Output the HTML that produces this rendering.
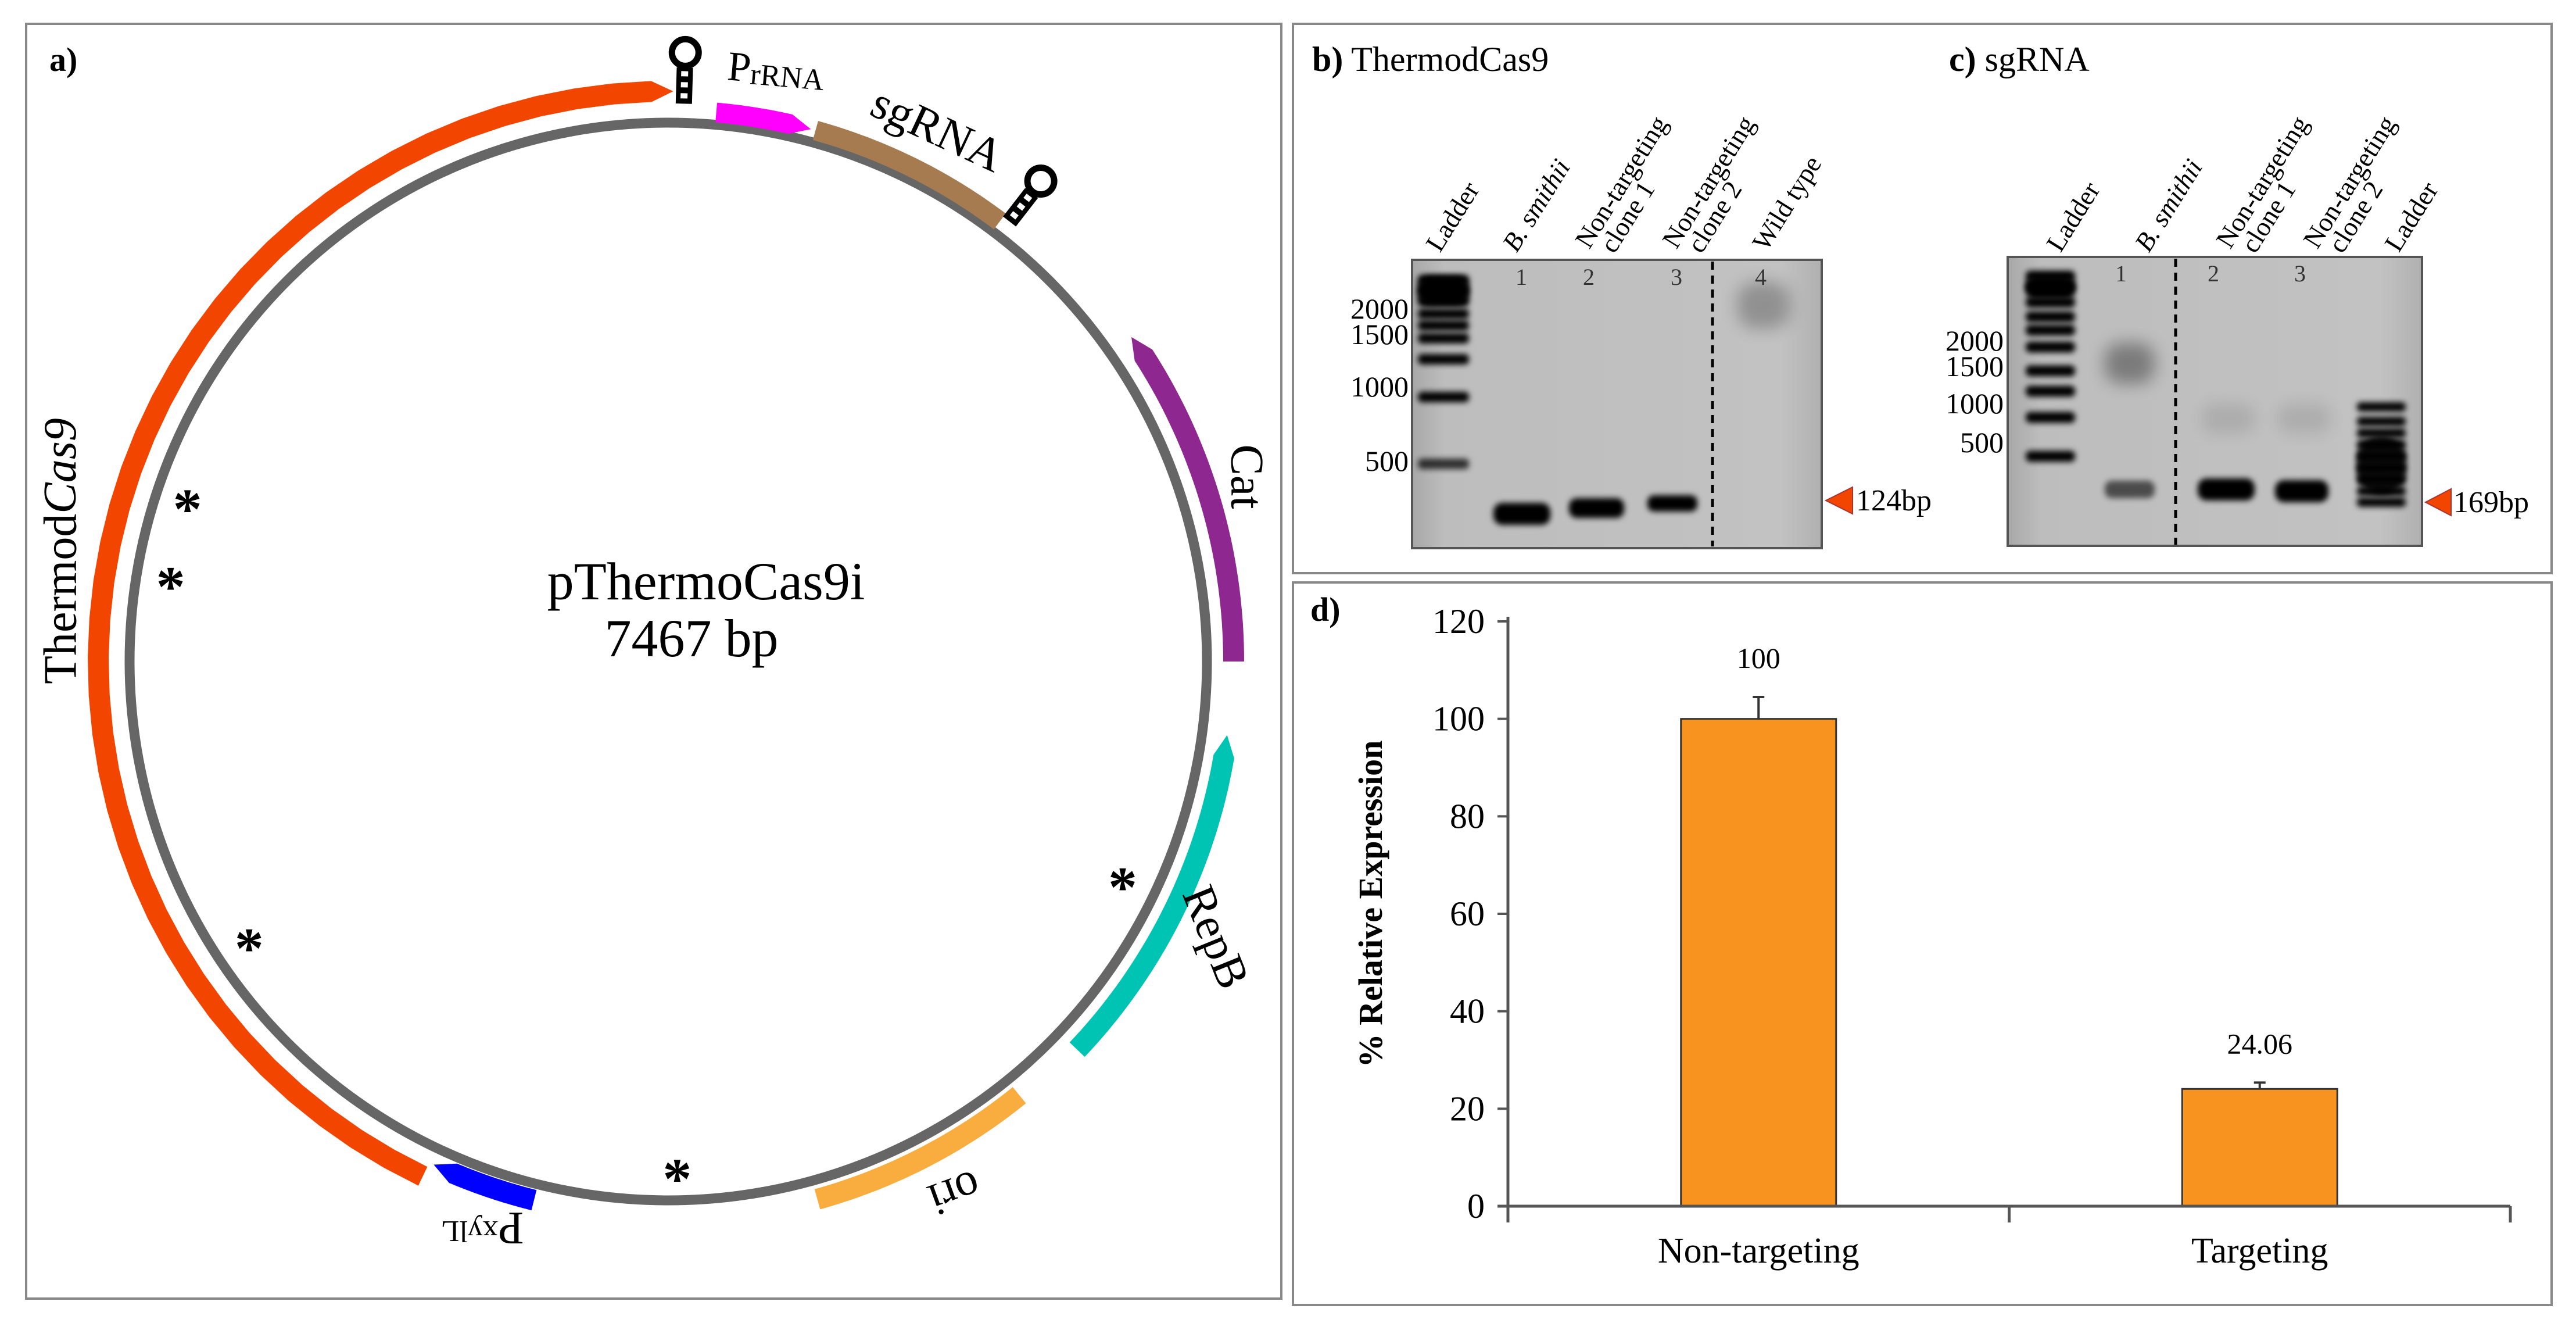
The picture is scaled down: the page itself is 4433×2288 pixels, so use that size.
<!DOCTYPE html>
<html><head><meta charset="utf-8"><style>
html,body{margin:0;padding:0;background:#fff}
svg{display:block}
text{font-family:"Liberation Serif",serif}
</style></head><body>
<svg id="fig" width="4433" height="2288" viewBox="0 0 4433 2288" xmlns="http://www.w3.org/2000/svg">
<defs>
<filter id="blur" x="-30%" y="-60%" width="160%" height="220%"><feGaussianBlur stdDeviation="5"/></filter>
<filter id="blur2" x="-30%" y="-60%" width="160%" height="220%"><feGaussianBlur stdDeviation="14"/></filter>
<linearGradient id="gelg" x1="0" y1="0" x2="1" y2="0"><stop offset="0" stop-color="#a8a8a8"/><stop offset="0.08" stop-color="#bdbdbd"/><stop offset="0.9" stop-color="#c2c2c2"/><stop offset="1" stop-color="#b0b0b0"/></linearGradient>
</defs>
<rect x="45" y="41" width="2160" height="2193" fill="none" stroke="#888" stroke-width="4"/>
<rect x="2225" y="41" width="2166" height="945" fill="none" stroke="#888" stroke-width="4"/>
<rect x="2225" y="1002" width="2166" height="1243" fill="none" stroke="#888" stroke-width="4"/>

<g id="plasmid"></g>
<g id="gels"></g>
<g id="chart"></g>
</svg>
<script>
const NS="http://www.w3.org/2000/svg";
function mk(parent,tag,attrs,txt){const e=document.createElementNS(NS,tag);for(const k in attrs)e.setAttribute(k,attrs[k]);if(txt!==undefined)e.textContent=txt;parent.appendChild(e);return e;}

/* ---------- Panel a: plasmid map ---------- */
const featureNames=["ThermodCas9","PrRNA","sgRNA","Cat","RepB","ori","Pxyl"];
const featureStart=[205.5,5,15.5,55,97.5,141,194];
const featureEnd=[0.5,15,37,90,133.5,164.5,205];
const featureColors=["#f24600","#ff00ff","#a67b4f","#8e278f","#00c4b3","#f9ad3e","#0000ff"];
const asteriskAngles=[-72,-81,-124,179,116];
const asteriskR=[870,867,870,883,870];

const P=document.getElementById('plasmid');
const cx=1150,cy=1138,R=927;
function pol(r,a){const t=a*Math.PI/180;return [cx+r*Math.sin(t),cy-r*Math.cos(t)];}
let c=mk(P,'circle',{cx:cx,cy:cy,r:R,fill:'none',stroke:'#666','stroke-width':17});



function band(a1,a2,rm,w,arrow){
  const r1=rm-w/2,r2=rm+w/2,ah=2.2;
  let s=a1,e=a2;
  if(arrow==='end')e=a2-ah; if(arrow==='start')s=a1+ah;
  let d='';
  const N=40;
  for(let i=0;i<=N;i++){const a=s+(e-s)*i/N;const p=pol(r2,a);d+=(i?'L':'M')+p[0].toFixed(1)+' '+p[1].toFixed(1);}
  if(arrow==='end'){const t=pol(rm,a2);d+='L'+t[0]+' '+t[1];}
  for(let i=N;i>=0;i--){const a=s+(e-s)*i/N;const p=pol(r1,a);d+='L'+p[0].toFixed(1)+' '+p[1].toFixed(1);}
  if(arrow==='start'){const t=pol(rm,a1);d+='L'+t[0]+' '+t[1];}
  return d+'Z';
}
const featureR=[981,948,948,973,970,960,955];
const featureW=[36,34,34,36,36,36,36];
const featureArrow=['end','end','','start','start','','end'];
for(let i=0;i<featureNames.length;i++){
  let a1=featureStart[i],a2=featureEnd[i];
  if(a2<a1)a2+=360;
  const p=mk(P,'path',{d:band(a1,a2,featureR[i],featureW[i],featureArrow[i]),fill:featureColors[i]});
  
  
}
[[1.6,960],[37.8,958]].forEach((t,i)=>{
  const g=mk(P,'g',{transform:`rotate(${t[0]} ${cx} ${cy})`});
  
  
  const y0=cy-t[1];
  mk(g,'rect',{x:cx-14,y:y0-62,width:28,height:62,fill:'#000'});
  for(let k=0;k<3;k++)mk(g,'rect',{x:cx-6,y:y0-56+k*19,width:12,height:9,fill:'#fff'});
  mk(g,'circle',{cx:cx,cy:y0-88,r:23,fill:'none',stroke:'#000','stroke-width':11});
});
for(let i=0;i<asteriskAngles.length;i++){
  const p=pol(asteriskR[i],asteriskAngles[i]);
  const t=mk(P,'text',{x:p[0],y:p[1]+40,'font-size':100,'text-anchor':'middle','font-weight':'bold'},'*');
  
  
}
function lbl(x,y,rot,txt,size,name,italic){
  const t=mk(P,'text',{x:0,y:0,transform:`translate(${x} ${y}) rotate(${rot})`,'font-size':size,'text-anchor':'middle','dominant-baseline':'middle'});
  if(italic)t.setAttribute('font-style','italic');
  t.innerHTML=txt;
  
  
  return t;
}
lbl(112,948,-90,'Thermod<tspan font-style="italic">Cas9</tspan>',80,'label-thermodcas9');
lbl(1335,128,5,'P<tspan font-size="52" dy="8">rRNA</tspan>',72,'label-prrna');
lbl(1610,230,25,'sgRNA',80,'label-sgrna');
lbl(2138,820,90,'Cat',80,'label-cat');
lbl(2085,1615,68,'RepB',80,'label-repb');
lbl(1640,2045,160,'ori',80,'label-ori');
lbl(830,2105,180,'P<tspan font-size="52" dy="-8">xylL</tspan>',80,'label-pxyl');
lbl(1215,1010,0,'pThermoCas9i',92,'plasmid-name');
lbl(1190,1108,0,'7467 bp',92,'plasmid-size');
let ta=mk(P,'text',{x:85,y:122,'font-size':58,'font-weight':'bold'},'a)');


/* ---------- Panels b, c: gels ---------- */
const G=document.getElementById('gels');
function gt(x,y,txt,size,attrs,name){const t=mk(G,'text',Object.assign({x:x,y:y,'font-size':size},attrs||{}));t.innerHTML=txt;return t;}
gt(2258,122,'<tspan font-weight="bold">b)</tspan> ThermodCas9',60,{},'panel-b-title');
gt(3354,122,'<tspan font-weight="bold">c)</tspan> sgRNA',60,{},'panel-c-title');

function gel(x,y,w,h,name){const r=mk(G,'rect',{x:x,y:y,width:w,height:h,fill:'url(#gelg)',stroke:'#555','stroke-width':4});}
gel(2430,447,705,496,'gel-b');
gel(3455,442,713,497,'gel-c');
function bandR(x,y,w,h,op,blur,name){const r=mk(G,'rect',{x:x,y:y-h/2,width:w,height:h,rx:h/2.5,fill:'#000',opacity:op,filter:blur?'url(#blur2)':'url(#blur)'});}
[482,500,518,540,560,582,618,683,798].forEach(y=>bandR(2440,y,88,18,y>790?0.75:1,false,'ladder-band'));
bandR(2440,500,88,50,1,false,'ladder-band');
bandR(2570,884,98,38,1,false,'sample-band');
bandR(2700,874,95,34,1,false,'sample-band');
bandR(2835,866,86,28,1,false,'sample-band');
bandR(2990,525,90,80,0.25,true,'wildtype-smear');
let dl=mk(G,'line',{x1:2947,y1:450,x2:2947,y2:940,stroke:'#000','stroke-width':5,'stroke-dasharray':'14 10'});
[['1',2618],['2',2734],['3',2885],['4',3030]].forEach(n=>gt(n[1],490,n[0],40,{'text-anchor':'middle',fill:'#333'},'lane-number'));
[['2000',548],['1500',592],['1000',682],['500',810]].forEach(n=>gt(2424,n[1],n[0],50,{'text-anchor':'end'},'ladder-size-label'));
let tr=mk(G,'polygon',{points:'3142,861 3188,838 3188,884',fill:'#f24600',stroke:'#a33','stroke-width':2});
gt(3194,878,'124bp',52,{},'size-label-124bp');
function rl(x,y,txt,name){const t=mk(G,'text',{x:0,y:0,transform:`translate(${x} ${y}) rotate(-58)`,'font-size':46});t.innerHTML=txt;}
rl(2478,436,'Ladder','lane-label-ladder');
rl(2610,436,'<tspan font-style="italic">B. smithii</tspan>','lane-label-bsmithii');
rl(2735,430,'Non-targeting','lane-label-clone1');rl(2778,438,'clone 1','lane-label-clone1-b');
rl(2885,430,'Non-targeting','lane-label-clone2');rl(2928,438,'clone 2','lane-label-clone2-b');
rl(3040,434,'Wild type','lane-label-wildtype');
[475,494,520,545,568,597,638,673,718,785].forEach(y=>bandR(3486,y,85,19,1,false,'ladder-band'));
bandR(3486,495,85,40,1,false,'ladder-band');
bandR(3622,625,86,70,0.35,true,'sample-smear');
bandR(3622,842,86,30,0.6,false,'sample-band');
bandR(3782,842,98,38,1,false,'sample-band');
bandR(3915,845,92,38,1,false,'sample-band');
bandR(3790,720,90,50,0.1,true,'faint-smear');bandR(3920,720,90,50,0.1,true,'faint-smear');
[700,725,745,765,785,805,825,845,864].forEach(y=>bandR(4056,y,84,16,1,false,'ladder2-band'));
bandR(4056,800,84,100,0.9,false,'ladder2-band');
let dl2=mk(G,'line',{x1:3744,y1:445,x2:3744,y2:937,stroke:'#000','stroke-width':5,'stroke-dasharray':'14 10'});
[['1',3650],['2',3809],['3',3958]].forEach(n=>gt(n[1],484,n[0],40,{'text-anchor':'middle',fill:'#333'},'lane-number'));
[['2000',603],['1500',647],['1000',711],['500',778]].forEach(n=>gt(3448,n[1],n[0],50,{'text-anchor':'end'},'ladder-size-label'));
let tr2=mk(G,'polygon',{points:'4174,864 4218,841 4218,887',fill:'#f24600',stroke:'#a33','stroke-width':2});
gt(4222,881,'169bp',52,{},'size-label-169bp');
rl(3546,436,'Ladder','lane-label-ladder');
rl(3698,436,'<tspan font-style="italic">B. smithii</tspan>','lane-label-bsmithii');
rl(3838,430,'Non-targeting','lane-label-clone1');rl(3881,438,'clone 1','lane-label-clone1-b');
rl(3988,430,'Non-targeting','lane-label-clone2');rl(4031,438,'clone 2','lane-label-clone2-b');
rl(4128,436,'Ladder','lane-label-ladder-2');

/* ---------- Panel d: bar chart ---------- */
const categories=["Non-targeting","Targeting"];
const values=[100,24.06];
const errors=[4.5,1.3];
const valueLabels=["100","24.06"];
const yTicks=[0,20,40,60,80,100,120];

const C=document.getElementById('chart');
const x0=2595,x1=4320,yb=2075,yt=1069,yMax=120;
const yS=v=>yb-(yb-yt)*v/yMax;
const band_w=(x1-x0)/categories.length;
const xC=i=>x0+band_w*(i+0.5);
const barW=267;
function ct(x,y,txt,size,attrs,name){const t=mk(C,'text',Object.assign({x:x,y:y,'font-size':size},attrs||{}),txt);return t;}
yTicks.forEach(v=>{
  const l=mk(C,'line',{x1:x0-18,y1:yS(v),x2:x0,y2:yS(v),stroke:'#555','stroke-width':4});
  
  ct(x0-40,yS(v)+20,String(v),60,{'text-anchor':'end'},'y-tick-label');
});
for(let i=0;i<categories.length;i++){
  const top=yS(values[i]);
  const r=mk(C,'rect',{x:xC(i)-barW/2,y:top,width:barW,height:yb-top,fill:'#f7931e',stroke:'#333','stroke-width':3});
  
  
  const et=yS(values[i]+errors[i]);
  const e=mk(C,'path',{d:`M${xC(i)} ${top}V${et}M${xC(i)-10} ${et}H${xC(i)+10}`,stroke:'#333','stroke-width':4,fill:'none'});
  
  ct(xC(i),et-50,valueLabels[i],50,{'text-anchor':'middle'},'value-label');
  ct(xC(i),2172,categories[i],62,{'text-anchor':'middle'},'x-category-label');
}
let ax=mk(C,'path',{d:`M${x0} ${yt-8}V${yb}M${x0-18} ${yb}H${x1}M${x0} ${yb}v28M${x0+band_w} ${yb}v28M${x1} ${yb}v28`,stroke:'#555','stroke-width':5,fill:'none'});

let yl=mk(C,'text',{x:0,y:0,transform:'translate(2378 1555) rotate(-90)','font-size':58,'font-weight':'bold','text-anchor':'middle'},'% Relative Expression');

ct(2255,1068,'d)',58,{'font-weight':'bold'},'panel-d-label');
</script>
</body></html>
